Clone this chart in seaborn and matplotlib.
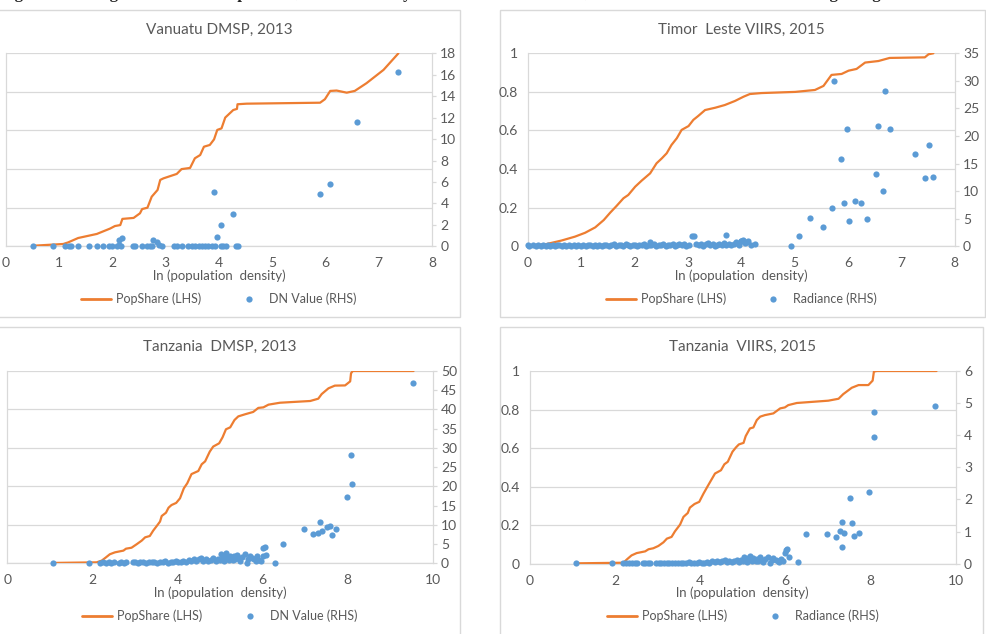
import matplotlib
matplotlib.use("Agg")
import matplotlib.pyplot as plt
import seaborn as sns
from matplotlib.lines import Line2D
from matplotlib.patches import Rectangle
from matplotlib.ticker import MultipleLocator, FuncFormatter

sns.set_theme(style="white")
plt.rcParams['font.family'] = ['Lato', 'DejaVu Sans']

ORANGE = '#ED7D31'
BLUE = '#5B9BD5'
GRID = '#D9D9D9'
TXT = '#595959'
W, H = 987, 634

CAPTION = ("Figure 7: A Large Share of the Population, in Low Density Areas of Poor "
           "Countries, is Invisible in Satellite Data on Night Lights")
XLABEL = "ln (population  density)"

# --- Vanuatu DMSP, 2013 ---
van_line_x = [0.52, 1.08, 1.17, 1.36, 1.71, 1.96, 2.05, 2.15, 2.19, 2.40, 2.52, 2.56, 2.66, 2.74,
              2.85, 2.90, 2.96, 3.21, 3.30, 3.46, 3.55, 3.65, 3.72, 3.83, 3.91, 3.97, 4.05, 4.12,
              4.27, 4.34, 4.35, 4.52, 5.90, 5.99, 6.09, 6.21, 6.40, 6.55, 6.77, 7.09, 7.37]
van_line_y = [0.003, 0.012, 0.02, 0.043, 0.064, 0.092, 0.105, 0.11, 0.142, 0.147, 0.171, 0.193,
              0.20, 0.257, 0.292, 0.344, 0.352, 0.375, 0.40, 0.406, 0.456, 0.473, 0.516, 0.525,
              0.554, 0.603, 0.611, 0.667, 0.706, 0.712, 0.736, 0.739, 0.744, 0.762, 0.805, 0.807,
              0.796, 0.805, 0.845, 0.914, 1.0]
van_dot_x = [0.52, 0.88, 1.11, 1.18, 1.22, 1.36, 1.56, 1.71, 1.83, 1.93,
             1.99, 2.08, 2.13, 2.16, 2.13, 2.18, 2.39, 2.43, 2.55, 2.65,
             2.71, 2.74, 2.76, 2.83, 2.88, 2.94, 3.16, 3.21, 3.30, 3.43,
             3.49, 3.55, 3.62, 3.68, 3.74, 3.80, 3.87, 3.93, 3.91, 3.97,
             4.04, 4.04, 4.08, 4.13, 4.27, 4.32, 4.35, 5.90, 6.09, 6.59,
             7.37]
van_dot_y = [0.05, 0.05, 0.05, 0.05, 0.05, 0.05, 0.05, 0.05, 0.05, 0.05,
             0.05, 0.05, 0.10, 0.05, 0.60, 0.75, 0.05, 0.05, 0.05, 0.05,
             0.05, 0.05, 0.60, 0.37, 0.10, 0.05, 0.05, 0.05, 0.05, 0.05,
             0.05, 0.05, 0.05, 0.05, 0.05, 0.05, 0.05, 0.05, 5.10, 0.85,
             1.96, 0.05, 0.05, 0.05, 3.00, 0.05, 0.05, 4.90, 5.84, 11.55,
             16.30]

# --- Timor Leste VIIRS, 2015 ---
tim_line_x = [0.00, 0.32, 0.63, 0.88, 1.07, 1.26, 1.42, 1.54, 1.66, 1.79, 1.88, 2.01, 2.13, 2.29,
              2.41, 2.51, 2.60, 2.69, 2.79, 2.88, 3.01, 3.10, 3.19, 3.32, 3.51, 3.69, 3.88, 4.04,
              4.16, 4.38, 5.01, 5.38, 5.54, 5.69, 5.88, 6.01, 6.16, 6.32, 6.57, 6.78, 7.44, 7.51,
              7.60]
tim_line_y = [0.003, 0.01, 0.03, 0.05, 0.07, 0.098, 0.136, 0.174, 0.209, 0.249, 0.266, 0.309,
              0.34, 0.378, 0.43, 0.456, 0.482, 0.525, 0.56, 0.603, 0.623, 0.655, 0.675, 0.706,
              0.718, 0.732, 0.753, 0.775, 0.789, 0.794, 0.80, 0.81, 0.831, 0.888, 0.893, 0.91,
              0.919, 0.952, 0.96, 0.976, 0.979, 0.995, 1.0]
tim_low_x = [0.00, 0.02, 0.10, 0.15, 0.19, 0.24, 0.28, 0.33, 0.37, 0.41,
             0.46, 0.50, 0.55, 0.59, 0.63, 0.68, 0.72, 0.77, 0.81, 0.86,
             0.90, 0.94, 0.99, 1.03, 1.08, 1.12, 1.17, 1.21, 1.25, 1.30,
             1.34, 1.39, 1.43, 1.47, 1.52, 1.56, 1.61, 1.65, 1.70, 1.74,
             1.78, 1.83, 1.87, 1.92, 1.96, 2.00, 2.05, 2.09, 2.14, 2.18,
             2.22, 2.27, 2.29, 2.31, 2.36, 2.40, 2.45, 2.49, 2.53, 2.58,
             2.62, 2.67, 2.71, 2.75, 2.80, 2.84, 2.89, 2.93, 2.97, 3.02,
             3.07, 3.12, 3.15, 3.20, 3.24, 3.28, 3.33, 3.37, 3.42, 3.46,
             3.50, 3.55, 3.59, 3.64, 3.68, 3.72, 3.72, 3.77, 3.81, 3.86,
             3.90, 3.95, 3.99, 4.00, 4.04, 4.07, 4.10, 4.13, 4.18, 4.26]
tim_low_y = [0.2, 0.1, 0.2, 0.1, 0.2, 0.1, 0.2, 0.1, 0.2, 0.1,
             0.2, 0.1, 0.2, 0.3, 0.1, 0.2, 0.1, 0.2, 0.1, 0.3,
             0.1, 0.2, 0.1, 0.2, 0.1, 0.2, 0.3, 0.1, 0.2, 0.1,
             0.2, 0.1, 0.3, 0.2, 0.1, 0.2, 0.4, 0.1, 0.3, 0.2,
             0.1, 0.4, 0.2, 0.1, 0.3, 0.2, 0.1, 0.3, 0.2, 0.4,
             0.1, 0.3, 0.8, 0.2, 0.4, 0.1, 0.3, 0.2, 0.5, 0.1,
             0.3, 0.2, 0.4, 0.1, 0.3, 0.5, 0.2, 0.4, 0.1, 0.3,
             1.93, 1.80, 0.4, 0.2, 0.5, 0.1, 0.4, 0.6, 0.2, 0.5,
             0.1, 0.3, 0.4, 0.2, 0.6, 0.3, 2.05, 0.4, 0.2, 0.5,
             0.7, 0.3, 1.0, 0.9, 1.15, 0.6, 0.85, 1.0, 0.3, 0.4]
tim_high_x = [4.93, 5.08, 5.29, 5.53, 5.70, 5.74, 5.86, 5.93, 5.98, 6.01, 6.13,
              6.24, 6.35, 6.52, 6.56, 6.65, 6.69, 6.79, 7.25, 7.44, 7.51, 7.60]
tim_high_y = [0.1, 1.93, 5.2, 3.45, 7.0, 30.0, 15.8, 7.8, 21.2, 4.6, 8.3,
              7.8, 4.96, 13.2, 21.8, 10.1, 28.1, 21.3, 16.7, 12.45, 18.3, 12.5]

# --- Tanzania DMSP, 2013 ---
tzd_line_x = [1.08, 2.10, 2.22, 2.32, 2.41, 2.53, 2.73, 2.79, 2.92, 3.04, 3.16, 3.24, 3.35, 3.43,
              3.53, 3.59, 3.63, 3.73, 3.79, 3.86, 3.97, 4.06, 4.15, 4.23, 4.33, 4.49, 4.57, 4.65,
              4.76, 4.84, 4.98, 5.06, 5.14, 5.24, 5.34, 5.43, 5.59, 5.78, 5.90, 6.02, 6.14, 6.41,
              7.12, 7.31, 7.39, 7.55, 7.70, 7.94, 8.06, 8.08, 8.12, 9.55]
tzd_line_y = [0.002, 0.005, 0.014, 0.031, 0.047, 0.057, 0.066, 0.076, 0.081, 0.099, 0.118, 0.135,
              0.142, 0.17, 0.199, 0.217, 0.246, 0.263, 0.289, 0.303, 0.314, 0.338, 0.39, 0.416,
              0.464, 0.48, 0.515, 0.53, 0.581, 0.607, 0.624, 0.655, 0.697, 0.707, 0.745, 0.764,
              0.775, 0.787, 0.808, 0.811, 0.825, 0.835, 0.844, 0.856, 0.88, 0.91, 0.924, 0.925,
              0.946, 0.988, 1.0, 1.0]
tzd_low_x = [1.08, 1.93, 2.18, 2.25, 2.31, 2.38, 2.44, 2.50, 2.62, 2.68,
             2.74, 2.80, 2.95, 3.01, 3.07, 3.13, 3.20, 3.26, 3.33, 3.40,
             3.46, 3.52, 3.58, 3.65, 3.71, 3.77, 3.84, 3.90, 3.96, 4.02,
             4.08, 4.14, 4.20, 4.26, 4.32, 4.38, 4.44, 4.50, 4.56, 4.60,
             4.66, 4.72, 4.78, 4.84, 4.90, 4.95, 5.00, 5.03, 5.06, 5.09,
             5.12, 5.15, 5.18, 5.21, 5.24, 5.27, 5.30, 5.33, 5.36, 5.39,
             5.42, 5.46, 5.52, 5.58, 5.63, 5.66, 5.70, 5.75, 5.80, 5.85,
             5.88, 5.92, 5.96, 6.00, 6.02, 6.06, 6.08, 6.30]
tzd_low_y = [0.2, 0.2, 0.2, 0.3, 0.2, 0.3, 0.2, 0.3, 0.2, 0.3,
             0.2, 0.3, 0.3, 0.4, 0.2, 0.3, 0.4, 0.2, 0.3, 0.4,
             0.3, 0.2, 0.4, 0.3, 0.5, 0.2, 0.4, 0.3, 0.6, 0.4,
             0.3, 0.7, 0.4, 0.8, 0.5, 1.2, 0.6, 1.0, 1.3, 0.7,
             1.1, 0.5, 0.9, 1.4, 0.6, 1.2, 0.8, 2.3, 1.6, 0.7,
             1.9, 2.7, 1.2, 0.9, 2.0, 1.5, 0.8, 1.8, 1.0, 2.2,
             1.4, 0.6, 1.7, 2.4, 0.1, 1.1, 2.0, 1.5, 1.0, 0.7,
             1.8, 0.9, 0.5, 4.0, 1.9, 4.2, 2.2, 0.1]
tzd_high_x = [6.49, 6.97, 7.19, 7.31, 7.35, 7.39, 7.51, 7.59, 7.63, 7.73, 7.98, 8.09, 8.11, 9.53]
tzd_high_y = [5.0, 9.0, 7.6, 8.0, 10.7, 8.3, 9.5, 9.8, 7.4, 9.0, 17.3, 28.1, 20.6, 47.0]

# --- Tanzania VIIRS, 2015 ---
tzv_line_x = [1.10, 2.20, 2.28, 2.39, 2.51, 2.71, 2.79, 2.90, 3.02, 3.14, 3.22, 3.33, 3.41, 3.53,
              3.61, 3.71, 3.76, 3.87, 3.98, 4.08, 4.19, 4.35, 4.49, 4.57, 4.65, 4.76, 4.84, 4.91,
              5.02, 5.07, 5.17, 5.25, 5.33, 5.41, 5.52, 5.72, 5.88, 5.99, 6.07, 6.27, 7.01, 7.25,
              7.36, 7.56, 7.72, 7.95, 8.05, 8.08, 8.15, 9.55]
tzv_line_y = [0.002, 0.005, 0.022, 0.043, 0.055, 0.064, 0.075, 0.08, 0.092, 0.111, 0.13, 0.139,
              0.168, 0.203, 0.243, 0.263, 0.291, 0.31, 0.321, 0.364, 0.407, 0.468, 0.485, 0.516,
              0.529, 0.581, 0.603, 0.619, 0.627, 0.662, 0.702, 0.707, 0.745, 0.763, 0.771, 0.78,
              0.806, 0.811, 0.823, 0.834, 0.846, 0.856, 0.88, 0.913, 0.927, 0.927, 0.95, 0.997,
              1.0, 1.0]
tzv_low_x = [1.09, 1.94, 2.20, 2.27, 2.33, 2.40, 2.47, 2.53, 2.65, 2.71,
             2.77, 2.83, 2.97, 3.03, 3.09, 3.15, 3.22, 3.28, 3.35, 3.42,
             3.48, 3.54, 3.60, 3.67, 3.73, 3.79, 3.86, 3.92, 3.98, 4.04,
             4.10, 4.16, 4.22, 4.28, 4.34, 4.40, 4.46, 4.52, 4.58, 4.62,
             4.68, 4.74, 4.80, 4.86, 4.92, 4.97, 5.01, 5.04, 5.07, 5.10,
             5.13, 5.16, 5.19, 5.22, 5.25, 5.28, 5.31, 5.34, 5.37, 5.40,
             5.43, 5.47, 5.53, 5.59, 5.64, 5.68, 5.72, 5.77, 5.82, 5.86,
             5.90, 5.94, 5.99, 6.01, 6.04, 6.08, 6.30]
tzv_low_y = [0.01, 0.01, 0.02, 0.01, 0.02, 0.01, 0.02, 0.01, 0.02, 0.01,
             0.02, 0.01, 0.02, 0.03, 0.01, 0.02, 0.03, 0.01, 0.02, 0.03,
             0.02, 0.01, 0.03, 0.02, 0.04, 0.01, 0.03, 0.02, 0.05, 0.03,
             0.02, 0.06, 0.03, 0.07, 0.04, 0.09, 0.05, 0.08, 0.11, 0.05,
             0.09, 0.04, 0.07, 0.12, 0.05, 0.10, 0.07, 0.20, 0.14, 0.06,
             0.17, 0.24, 0.10, 0.08, 0.18, 0.13, 0.07, 0.16, 0.09, 0.20,
             0.12, 0.05, 0.15, 0.22, 0.02, 0.10, 0.18, 0.13, 0.08, 0.06,
             0.16, 0.08, 0.34, 0.44, 0.46, 0.21, 0.04]
tzv_high_x = [6.48, 6.97, 7.18, 7.29, 7.32, 7.33, 7.38, 7.51, 7.57, 7.61, 7.72, 7.96, 8.08, 8.09, 9.51]
tzv_high_y = [0.94, 0.91, 0.82, 1.03, 0.51, 1.30, 0.96, 2.06, 1.27, 0.86, 0.97, 2.23, 4.73, 3.94, 4.91]


fig = plt.figure(figsize=(W / 100, H / 100), dpi=100)
fig.patch.set_facecolor('white')

# panel frames, drawn behind the axes (pixels: left, top, right, bottom)
frame_ax = fig.add_axes([0, 0, 1, 1], zorder=-10)
frame_ax.set_xlim(0, W)
frame_ax.set_ylim(H, 0)
frame_ax.axis('off')
for l, t, r, b in [(-23, 10, 460, 317), (500, 10, 985, 317),
                   (-23, 327, 460, 640), (500, 327, 983, 640)]:
    frame_ax.add_patch(Rectangle((l, t), r - l, b - t, facecolor='white',
                                 edgecolor=GRID, linewidth=1.0))

# the caption is cut by the top edge, as in the source image
fig.text(0.0, 1 + 1.5 / H, CAPTION, family='Liberation Serif', fontweight='bold',
         fontsize=12, va='baseline', ha='left', color='#222222')


def fmt_num(v, pos):
    return f"{v:g}"


def draw_panel(box, title, lx, ly, dx, dy, xmax, xstep, rmax, rstep, dot_label,
               title_y, xlabel_y, legend_y, show_left=True):
    l, t, r, b = box
    ax = fig.add_axes([l / W, 1 - b / H, (r - l) / W, (b - t) / H])
    ax.set_facecolor('none')
    sns.lineplot(x=lx, y=ly, ax=ax, color=ORANGE, linewidth=1.6, estimator=None,
                 sort=False, zorder=3)
    ax.set_xlim(0, xmax)
    ax.set_ylim(0, 1)
    ax.xaxis.set_major_locator(MultipleLocator(xstep))
    ax.yaxis.set_major_locator(MultipleLocator(0.2))
    ax.xaxis.set_major_formatter(FuncFormatter(fmt_num))
    ax.yaxis.set_major_formatter(FuncFormatter(fmt_num))
    ax.grid(axis='y', color=GRID, linewidth=0.9)
    ax.set_axisbelow(True)
    for s in ['top', 'right']:
        ax.spines[s].set_visible(False)
    for s in ['left', 'bottom']:
        ax.spines[s].set_color(GRID)
        ax.spines[s].set_linewidth(0.9)
    ax.tick_params(axis='both', length=0, labelsize=10, labelcolor=TXT)
    ax.tick_params(axis='y', pad=7, labelleft=show_left)
    ax.tick_params(axis='x', pad=8)
    ax.set_xlabel('')
    ax.set_ylabel('')

    ax2 = ax.twinx()
    sns.scatterplot(x=dx, y=dy, ax=ax2, color=BLUE, s=20, linewidth=0, zorder=4,
                    clip_on=False)
    ax2.set_ylim(0, rmax)
    ax2.yaxis.set_major_locator(MultipleLocator(rstep))
    ax2.yaxis.set_major_formatter(FuncFormatter(fmt_num))
    for s in ['top', 'left', 'bottom']:
        ax2.spines[s].set_visible(False)
    ax2.spines['right'].set_color(GRID)
    ax2.spines['right'].set_linewidth(0.9)
    ax2.tick_params(axis='y', length=3, width=0.9, color=GRID, labelsize=10,
                    labelcolor=TXT, pad=3)
    ax2.set_ylabel('')

    cx = (l + r) / 2 / W
    fig.text(cx, 1 - title_y / H, title, ha='center', va='center', fontsize=11, color=TXT)
    fig.text(cx, 1 - xlabel_y / H, XLABEL, ha='center', va='center', fontsize=9.5, color=TXT)
    handles = [Line2D([0], [0], color=ORANGE, linewidth=2),
               Line2D([0], [0], color=BLUE, marker='o', linestyle='none', markersize=4.5,
                      markeredgewidth=0)]
    ax2.legend(handles, ['PopShare (LHS)', dot_label], loc='center',
               bbox_to_anchor=(cx, 1 - legend_y / H), bbox_transform=fig.transFigure,
               ncol=2, frameon=False, fontsize=9, labelcolor=TXT, handlelength=2.4,
               handletextpad=0.4, columnspacing=2.6)


# left-hand panels: their LHS labels fall outside the cropped image
draw_panel((5.7, 53.3, 432, 246.3), 'Vanuatu DMSP, 2013', van_line_x, van_line_y,
           van_dot_x, van_dot_y, 8, 1, 18, 2, 'DN Value (RHS)', 30, 276, 299,
           show_left=False)
draw_panel((528, 53.3, 954.7, 246.3), 'Timor  Leste VIIRS, 2015', tim_line_x, tim_line_y,
           tim_low_x + tim_high_x, tim_low_y + tim_high_y, 8, 1, 35, 5, 'Radiance (RHS)',
           30, 276, 299)
draw_panel((7.3, 371, 432.7, 563.3), 'Tanzania  DMSP, 2013', tzd_line_x, tzd_line_y,
           tzd_low_x + tzd_high_x, tzd_low_y + tzd_high_y, 10, 2, 50, 5, 'DN Value (RHS)',
           347, 593, 616, show_left=False)
draw_panel((529.7, 371, 955.7, 563.7), 'Tanzania  VIIRS, 2015', tzv_line_x, tzv_line_y,
           tzv_low_x + tzv_high_x, tzv_low_y + tzv_high_y, 10, 2, 6, 1, 'Radiance (RHS)',
           347, 593, 616)

fig.savefig('out.png', dpi=100, facecolor='white')
